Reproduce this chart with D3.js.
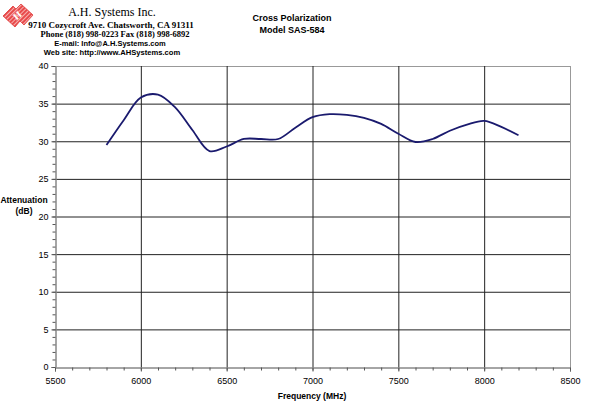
<!DOCTYPE html>
<html><head><meta charset="utf-8">
<script src="https://cdn.jsdelivr.net/npm/d3@7"></script>
<style>body{margin:0;background:#fff}svg{display:block}</style>
</head><body>
<script>
const freqs = [5800,5900,6000,6100,6200,6300,6400,6500,6600,6700,6800,6900,7000,7100,7200,7300,7400,7500,7600,7700,7800,7900,8000,8100,8200];
const atten = [29.5,32.8,35.8,36.2,34.5,31.5,28.7,29.3,30.3,30.3,30.3,31.8,33.2,33.6,33.5,33.1,32.3,31.0,29.9,30.3,31.4,32.2,32.7,31.9,30.8];
const xTicks = [5500,6000,6500,7000,7500,8000,8500];
const yTicks = [0,5,10,15,20,25,30,35,40];
const headerLines = ["A.H. Systems Inc.","9710 Cozycroft Ave. Chatsworth, CA 91311","Phone (818) 998-0223 Fax (818) 998-6892","E-mail: Info@A.H.Systems.com","Web site: http://www.AHSystems.com"];
const titleLines = ["Cross Polarization","Model SAS-584"];

const W=600,H=405;
const svg=d3.select("body").append("svg").attr("width",W).attr("height",H);
const x=d3.scaleLinear().domain([5500,8500]).range([55,570]);
const y=d3.scaleLinear().domain([0,40]).range([367,66]);

// gridlines
const g=svg.append("g");
g.selectAll("line.h").data(yTicks.filter(d=>d>0)).join("line")
 .attr("x1",x(5500)).attr("x2",x(8500)).attr("y1",d=>y(d)+0.5).attr("y2",d=>y(d)+0.5)
 .attr("stroke",d=>d===40?"#999":"#222").attr("stroke-width",1);
g.selectAll("line.v").data(xTicks.filter(d=>d>5500)).join("line")
 .attr("y1",y(0)).attr("y2",y(40)).attr("x1",d=>x(d)+0.5).attr("x2",d=>x(d)+0.5)
 .attr("stroke",d=>d===8500?"#999":"#222").attr("stroke-width",1);

// axes
const ff="Liberation Sans, Arial, sans-serif";
const xa=svg.append("g").attr("transform",`translate(0,${y(0)+0.5})`)
 .call(d3.axisBottom(x).tickValues(xTicks).tickSize(4).tickPadding(6).tickFormat(d3.format("d")));
const xm=svg.append("g").attr("transform",`translate(0,${y(0)+0.5})`)
 .call(d3.axisBottom(x).tickValues(d3.range(5500,8501,100)).tickSize(3).tickFormat(""));
const ya=svg.append("g").attr("transform",`translate(${x(5500)+0.5},0)`)
 .call(d3.axisLeft(y).tickValues(yTicks).tickSize(4).tickPadding(3));
const ym=svg.append("g").attr("transform",`translate(${x(5500)+0.5},0)`)
 .call(d3.axisLeft(y).tickValues(d3.range(0,41,1)).tickSize(3).tickFormat(""));
[xa,xm,ya,ym].forEach(a=>{a.select(".domain").attr("stroke","#888");a.selectAll(".tick line").attr("stroke","#555");
 a.selectAll("text").attr("font-family",ff).attr("font-size","9px").attr("fill","#000");});

// line
svg.append("path").datum(freqs.map((f,i)=>[f,atten[i]]))
 .attr("fill","none").attr("stroke","#1a1a6e").attr("stroke-width",1.8)
 .attr("d",d3.line().x(d=>x(d[0])).y(d=>y(d[1])).curve(d3.curveCatmullRom.alpha(0.5)));

// titles
svg.selectAll("text.title").data(titleLines).join("text")
 .attr("x",292).attr("y",(d,i)=>21+i*12).attr("text-anchor","middle")
 .attr("font-family",ff).attr("font-weight","bold").attr("font-size","9px").text(d=>d);
svg.append("text").attr("x",24).attr("y",203).attr("text-anchor","middle").attr("font-family",ff)
 .attr("font-weight","bold").attr("font-size","8.5px").text("Attenuation");
svg.append("text").attr("x",24).attr("y",214).attr("text-anchor","middle").attr("font-family",ff)
 .attr("font-weight","bold").attr("font-size","8.5px").text("(dB)");
svg.append("text").attr("x",312).attr("y",399).attr("text-anchor","middle").attr("font-family",ff)
 .attr("font-weight","bold").attr("font-size","8.5px").text("Frequency (MHz)");

// header
const serif="Liberation Serif, Times New Roman, serif";
const hs=[{s:12,w:"normal",f:serif,y:16,x:112},
 {s:9,w:"bold",f:serif,y:28,x:111},
 {s:8.5,w:"bold",f:serif,y:37,x:115},
 {s:7.5,w:"bold",f:ff,y:46,x:110},{s:7.6,w:"bold",f:ff,y:55,x:112}];
svg.selectAll("text.hdr").data(headerLines).join("text")
 .attr("x",(d,i)=>hs[i].x).attr("y",(d,i)=>hs[i].y).attr("text-anchor","middle")
 .attr("font-family",(d,i)=>hs[i].f).attr("font-weight",(d,i)=>hs[i].w).attr("font-size",(d,i)=>hs[i].s+"px").text(d=>d);

// logo
const defs=svg.append("defs");
const pat=defs.append("pattern").attr("id","hatch").attr("patternUnits","userSpaceOnUse").attr("width",3).attr("height",3)
 .attr("patternTransform","rotate(45)");
pat.append("rect").attr("width",3).attr("height",3).attr("fill","#e84a4a");
pat.append("rect").attr("width",1).attr("height",3).attr("fill","#f7b0b0");
svg.append("polygon").attr("points","3,16 13,6 16,9 21,4 33,15 24,25 20,21 15,27")
 .attr("fill","url(#hatch)").attr("stroke","#e03a3a").attr("stroke-width",0.8);
svg.append("text").attr("x",17).attr("y",19).attr("text-anchor","middle").attr("font-family",serif)
 .attr("font-weight","bold").attr("font-size","10px").attr("fill","#fff").attr("transform","rotate(-40,17,15)").text("H");
</script>
</body></html>
